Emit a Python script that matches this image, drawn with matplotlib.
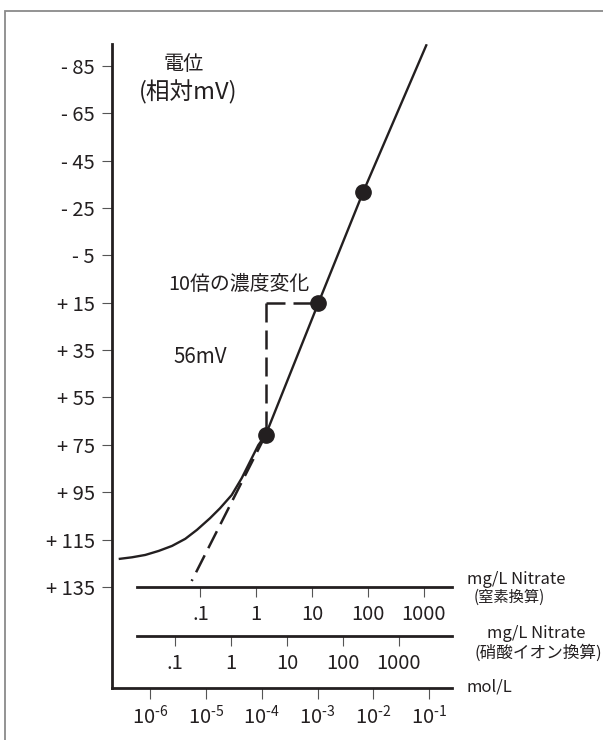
import numpy as np
import matplotlib
matplotlib.use('Agg')
import matplotlib.pyplot as plt
from matplotlib.patches import Rectangle

plt.rcParams['font.family'] = ['Noto Sans CJK JP', 'DejaVu Sans']
plt.rcParams['mathtext.fontset'] = 'custom'
plt.rcParams['mathtext.rm'] = 'Noto Sans CJK JP'
plt.rcParams['mathtext.it'] = 'Noto Sans CJK JP'
plt.rcParams['mathtext.default'] = 'regular'

# ---------------- data ----------------
# electrode response curve: log10(mol/L) and potential (relative mV)
curve_log_conc = [-6.565, -6.327, -6.088, -5.848, -5.610, -5.372, -5.162, -4.929,
                  -4.750, -4.540, -4.361, -4.212, -4.063, -3.931, -2.988, -2.182, -1.045]
curve_mv = [123.2, 122.5, 121.5, 119.8, 117.7, 114.7, 110.9, 106.0,
            101.8, 96.2, 89.1, 82.1, 75.1, 70.8, 15.2, -31.9, -94.2]
# calibration points
point_log_conc = [-3.931, -2.988, -2.182]
point_mv = [70.8, 15.2, -31.9]
# dashed extrapolation of the linear part
tangent_log_conc = [-3.931, -5.257]
tangent_mv = [70.8, 132.5]
# dashed "10x concentration change" step
step_v_log_conc = [-3.931, -3.931]
step_v_mv = [15.2, 70.8]
step_h_log_conc = [-3.931, -2.988]
step_h_mv = [15.2, 15.2]

# y axis ticks
ytick_vals = [-85, -65, -45, -25, -5, 15, 35, 55, 75, 95, 115, 135]
ytick_labels = ['- 85', '- 65', '- 45', '- 25', '- 5', '+ 15', '+ 35', '+ 55',
                '+ 75', '+ 95', '+ 115', '+ 135']
# mol/L ticks
mol_ticks = [1e-6, 1e-5, 1e-4, 1e-3, 1e-2, 1e-1]
mol_labels = [r'$10^{\text{-}6}$', r'$10^{\text{-}5}$', r'$10^{\text{-}4}$',
              r'$10^{\text{-}3}$', r'$10^{\text{-}2}$', r'$10^{\text{-}1}$']
# mg/L scales
mg_ticks = [0.1, 1, 10, 100, 1000]
mg_labels = ['.1', '1', '10', '100', '1000']
nitrogen_log_offset = -4.10   # log10(mol/L) = log10(mg/L N) + offset
nitrate_log_offset = -4.55    # log10(mol/L) = log10(mg/L NO3) + offset
aux_start_log_conc = -6.24

# ---------------- figure ----------------
W, H = 603, 740
fig = plt.figure(figsize=(W / 100, H / 100), dpi=100)
ink = '#231f20'

fig.add_artist(Rectangle((5 / W, -0.05), 2, (1 - 11 / H) + 0.05, transform=fig.transFigure,
                         fill=False, ec='#8a8a8a', lw=1.3))

ax_l, ax_r, ax_t, ax_b = 112, 452, 44, 688
ax = fig.add_axes([ax_l / W, 1 - ax_b / H, (ax_r - ax_l) / W, (ax_b - ax_t) / H])
ax.set_facecolor('none')
ax.set_xscale('log')
ax.set_xlim(10 ** -6.685, 10 ** -0.592)
ax.set_ylim(177.7, -94.3)

conc = 10 ** np.array(curve_log_conc)
ax.plot(conc, curve_mv, color=ink, lw=1.7, solid_capstyle='butt', zorder=3)
lw_d = 1.8
dash = (19 * 0.72 / lw_d, 8 * 0.72 / lw_d)
ax.plot(10 ** np.array(tangent_log_conc), tangent_mv, color=ink, lw=lw_d, dashes=dash, zorder=2)
ax.plot(10 ** np.array(step_v_log_conc), step_v_mv, color=ink, lw=lw_d, dashes=dash, zorder=2)
ax.plot(10 ** np.array(step_h_log_conc), step_h_mv, color=ink, lw=lw_d, dashes=dash, zorder=2)
ax.plot(10 ** np.array(point_log_conc), point_mv, 'o', color=ink, ms=11, zorder=4)

for s in ['top', 'right']:
    ax.spines[s].set_visible(False)
for s in ['left', 'bottom']:
    ax.spines[s].set_linewidth(2.0)
    ax.spines[s].set_color(ink)

ax.set_yticks(ytick_vals)
ax.set_yticklabels(ytick_labels)
ax.tick_params(axis='y', direction='out', length=7.2, width=0.8, color='#555555',
               pad=5.0, labelsize=14.5, labelcolor=ink)
ax.set_xticks(mol_ticks)
ax.set_xticklabels(mol_labels)
ax.xaxis.set_minor_locator(matplotlib.ticker.NullLocator())
ax.tick_params(axis='x', direction='out', length=8, width=0.8, color='#555555',
               pad=4, labelsize=14.5, labelcolor=ink)


def make_aux(loc, offset):
    f = lambda x: np.asarray(x) * 10 ** (-offset)
    g = lambda x: np.asarray(x) * 10 ** (offset)
    sec = ax.secondary_xaxis(loc, functions=(f, g))
    sec.set_xticks(mg_ticks)
    sec.set_xticklabels(mg_labels)
    sec.xaxis.set_minor_locator(matplotlib.ticker.NullLocator())
    sec.tick_params(axis='x', direction='out', length=7.2, width=0.8, color='#555555',
                    pad=5, labelsize=14.5, labelcolor=ink)
    sec.spines['bottom'].set_linewidth(2.0)
    sec.spines['bottom'].set_color(ink)
    sec.spines['bottom'].set_bounds(10 ** (aux_start_log_conc - offset), 10 ** (-0.592 - offset))
    return sec


make_aux((ax_b - 586.7) / (ax_b - ax_t), nitrogen_log_offset)
make_aux((ax_b - 636) / (ax_b - ax_t), nitrate_log_offset)


def ftext(x, y, s, **kw):
    fig.text(x / W, 1 - y / H, s, color=ink, **kw)


ftext(184, 64, '電位', fontsize=14.5, ha='center', va='center')
ftext(188, 92, '(相対mV)', fontsize=17, ha='center', va='center')
ftext(168, 285, '10倍の濃度変化', fontsize=14.3, ha='left', va='center')
ftext(173, 357, '56mV', fontsize=14.8, ha='left', va='center')
ftext(467, 579, 'mg/L Nitrate', fontsize=12, ha='left', va='center')
ftext(474, 597, '(窒素換算)', fontsize=11, ha='left', va='center')
ftext(536, 634, 'mg/L Nitrate', fontsize=12, ha='center', va='center')
ftext(538, 653, '(硝酸イオン換算)', fontsize=12, ha='center', va='center')
ftext(467, 687, 'mol/L', fontsize=12, ha='left', va='center')

fig.savefig('out.png', dpi=100)
